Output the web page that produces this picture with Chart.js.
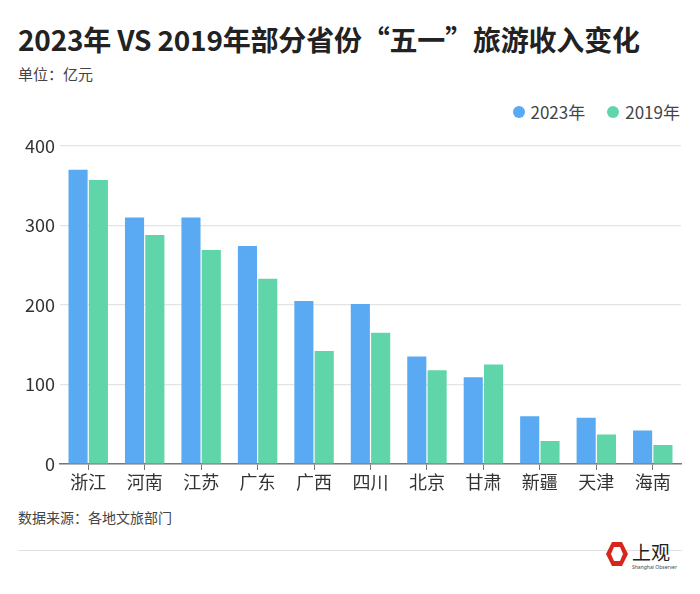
<!DOCTYPE html>
<html>
<head>
<meta charset="utf-8">
<script src="https://cdn.jsdelivr.net/npm/chart.js@4"></script>
<style>
    body { margin: 0; background: #fff; font-family: "Noto Sans CJK SC", sans-serif; }
    .page { position: relative; width: 700px; height: 594px; overflow: hidden; }
    .title { position: absolute; left: 18px; top: 19px; font-size: 28px; font-weight: 700; color: #222; white-space: nowrap; letter-spacing: -0.2px; }
    .unit { position: absolute; left: 18px; top: 63px; font-size: 15px; color: #444; }
    .legend { position: absolute; right: 20px; top: 99px; font-size: 17px; color: #444; display: flex; gap: 22px; }
    .legend span { display: flex; align-items: center; }
    .legend i { display: inline-block; width: 12px; height: 12px; border-radius: 50%; margin-right: 6px; }
    .chart-box { position: absolute; left: 0; top: 130px; width: 700px; height: 375px; }
    .source { position: absolute; left: 18px; top: 507px; font-size: 14px; color: #444; }
    .rule { position: absolute; left: 18px; top: 550px; width: 664px; height: 1px; background: #e2e2e2; }
    .logo { position: absolute; left: 602px; top: 539px; }
</style>
</head>
<body>
<div class="page">
    <div class="title">2023年 VS 2019年部分省份“五一”旅游收入变化</div>
    <div class="unit">单位：亿元</div>
    <div class="legend">
        <span><i style="background:#59aaf2"></i>2023年</span>
        <span><i style="background:#5fd5a9"></i>2019年</span>
    </div>
    <div class="chart-box"><canvas id="chart" width="700" height="375"></canvas></div>
    <div class="source">数据来源：各地文旅部门</div>
    <div class="rule"></div>
    <svg class="logo" width="80" height="40" viewBox="0 0 80 40">
        <polygon points="10,3 20,3 26,15 20,27 10,27 4,15" fill="#d9251c"/>
        <polygon points="12,8 18,8 21,15 18,22 12,22 9,15" fill="#fff"/>
        <text x="30" y="21" font-size="19" fill="#222" font-family="Noto Sans CJK SC">上观</text>
        <text x="30" y="30" font-size="5" fill="#444" font-family="Noto Sans">Shanghai Observer</text>
    </svg>
</div>
<script>
const provinces = ['浙江', '河南', '江苏', '广东', '广西', '四川', '北京', '甘肃', '新疆', '天津', '海南'];
const income2023 = [370, 310, 310, 274, 205, 201, 135, 109, 60, 58, 42];
const income2019 = [357, 288, 269, 233, 142, 165, 118, 125, 29, 37, 24];
const yTicks = [0, 100, 200, 300, 400];

const fontFamily = '"Noto Sans CJK SC", sans-serif';

new Chart(document.getElementById('chart'), {
    type: 'bar',
    data: {
        labels: provinces,
        datasets: [
            { label: '2023年', data: income2023, backgroundColor: '#59aaf2' },
            { label: '2019年', data: income2019, backgroundColor: '#5fd5a9' }
        ]
    },
    options: {
        responsive: false,
        animation: false,
        layout: { padding: { top: 14, right: 19, left: 0, bottom: 0 } },
        datasets: { bar: { categoryPercentage: 0.72, barPercentage: 0.94 } },
        plugins: { legend: { display: false }, tooltip: { enabled: false } },
        scales: {
            x: {
                afterFit: scale => { scale.height = 41; },
                grid: { display: true, drawOnChartArea: false, drawTicks: true, tickLength: 6, offset: false, color: '#777' },
                border: { display: true, color: '#777', width: 1.5 },
                ticks: { color: '#333', font: { family: fontFamily, size: 18 }, padding: 1 }
            },
            y: {
                min: 0,
                max: 400,
                afterFit: scale => { scale.width = 60; },
                afterBuildTicks: scale => { scale.ticks = yTicks.map(v => ({ value: v })); },
                grid: { color: '#e4e4e4', drawTicks: false, lineWidth: 1.2 },
                border: { display: false },
                ticks: { color: '#333', font: { family: fontFamily, size: 18 }, padding: 5 }
            }
        }
    }
});
</script>
</body>
</html>
